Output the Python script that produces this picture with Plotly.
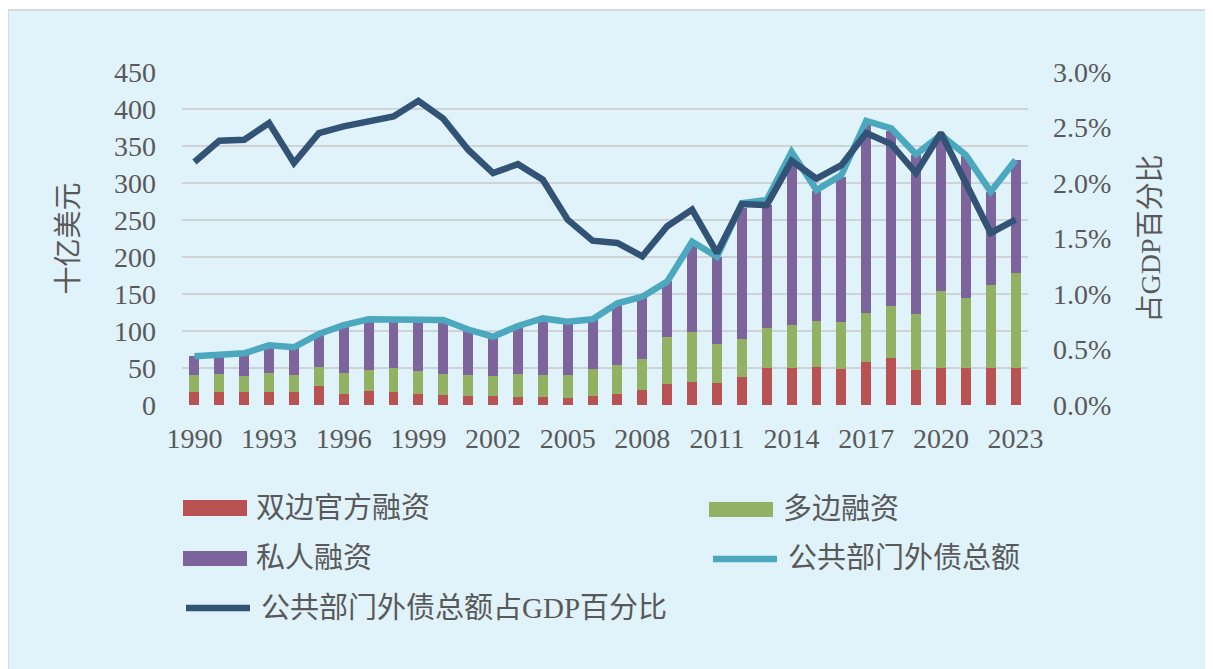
import plotly.graph_objects as go

years = list(range(1990, 2024))
bilateral = [17, 18, 17, 17, 17, 26, 15, 19, 17, 15, 13.5, 12, 12, 11, 11, 10, 12.6, 15, 20, 28.4,
             31.5, 30, 38, 50.5, 50.5, 52, 48.6, 58.6, 64, 47.7, 50.5, 50.5, 50.5, 50.5]
multilateral = [23.5, 24, 22, 26, 23.5, 26, 28, 28, 32.5, 31, 28.5, 28.5, 27, 31.5, 29.5, 30.5, 35.6, 39, 42, 63.5,
                66.7, 52, 50.7, 54, 57.5, 61.5, 63.4, 65.7, 69.8, 74.8, 104, 94.5, 111, 127.5]
private = [25.5, 25.7, 30.6, 37.8, 37.5, 44, 65, 68.5, 66, 68, 73, 61.5, 53, 64, 76.5, 72, 67.6, 83.4, 84, 75,
           120, 118, 178, 166, 227, 176, 196, 256, 236, 215, 208, 191, 126, 153]
total_debt = [66, 67.6, 69.8, 80.6, 78, 96, 108, 115.8, 115.8, 114, 115, 102, 92.3, 106.8, 117, 112.6, 115.8,
              137.4, 146.4, 166.7, 220.7, 200.4, 272.5, 277, 342, 290.5, 310.8, 383.8, 373.9, 338.7, 364.9,
              337.8, 288.3, 331]
pct_gdp = [2.19, 2.38, 2.39, 2.54, 2.18, 2.45, 2.51, 2.56, 2.60, 2.74, 2.58, 2.30, 2.09, 2.17, 2.03, 1.67, 1.48,
           1.46, 1.34, 1.61, 1.76, 1.37, 1.81, 1.80, 2.20, 2.04, 2.16, 2.45, 2.35, 2.09, 2.45, 2.00, 1.55, 1.67]
x_ticks = list(range(1990, 2024, 3))
left_ticks = list(range(0, 451, 50))
right_ticks = [0, 0.5, 1.0, 1.5, 2.0, 2.5, 3.0]

names = ["双边官方融资", "多边融资", "私人融资", "公共部门外债总额", "公共部门外债总额占GDP百分比"]
C_RED = "#B85253"
C_GREEN = "#93B162"
C_PURPLE = "#7D649D"
C_CYAN = "#4BA8BE"
C_DARK = "#325376"
FONT = "Liberation Serif, Times New Roman, Noto Sans CJK SC, serif"
TXT = "#595959"

# page body has an 8px margin; the figure is sized to fill the rest of the window
OFF = 8
W, H = 1213 - OFF, 669 - OFF
L, T = 182 - OFF, 72 - OFF
PW = 1028 - 182
PH = 405 - 72
R, B = W - L - PW, H - T - PH


def px(x):
    return (x - OFF - L) / PW


def py(y):
    return (T + PH - (y - OFF)) / PH


fig = go.Figure()
fig.add_bar(x=years, y=bilateral, name=names[0], marker=dict(color=C_RED, line=dict(width=0)))
fig.add_bar(x=years, y=multilateral, name=names[1], marker=dict(color=C_GREEN, line=dict(width=0)))
fig.add_bar(x=years, y=private, name=names[2], marker=dict(color=C_PURPLE, line=dict(width=0)))
fig.add_scatter(x=years, y=total_debt, name=names[3], mode="lines",
                line=dict(color=C_CYAN, width=6.5))
fig.add_scatter(x=years, y=pct_gdp, name=names[4], mode="lines", yaxis="y2",
                line=dict(color=C_DARK, width=6.5))

shapes = [
    dict(type="rect", xref="paper", yref="paper", x0=px(8), x1=px(1225), y0=py(680), y1=py(10),
         fillcolor="#E0F3FA", line=dict(color="#D9D9D9", width=2), layer="below"),
    dict(type="rect", xref="paper", yref="paper", x0=px(183), x1=px(247), y0=py(516), y1=py(500),
         fillcolor=C_RED, line=dict(width=0)),
    dict(type="rect", xref="paper", yref="paper", x0=px(709), x1=px(773), y0=py(517), y1=py(502),
         fillcolor=C_GREEN, line=dict(width=0)),
    dict(type="rect", xref="paper", yref="paper", x0=px(183), x1=px(247), y0=py(566), y1=py(551),
         fillcolor=C_PURPLE, line=dict(width=0)),
    dict(type="line", xref="paper", yref="paper", x0=px(713), x1=px(777), y0=py(559), y1=py(559),
         line=dict(color=C_CYAN, width=6.5)),
    dict(type="line", xref="paper", yref="paper", x0=px(186), x1=px(250), y0=py(608), y1=py(608),
         line=dict(color=C_DARK, width=6.5)),
]
legend_text = [(names[0], 254, 508), (names[1], 781, 509), (names[2], 254, 558),
               (names[3], 786, 558), (names[4], 259, 608)]
annotations = [dict(text=t, x=px(x), y=py(y), xref="paper", yref="paper", xanchor="left",
                    yanchor="middle", showarrow=False, font=dict(size=29, color=TXT, family=FONT))
               for t, x, y in legend_text]

fig.update_layout(
    width=W, height=H,
    margin=dict(l=L, r=R, t=T, b=B, pad=0),
    paper_bgcolor="white",
    plot_bgcolor="rgba(0,0,0,0)",
    barmode="stack",
    bargap=0.6,
    showlegend=False,
    font=dict(family=FONT, color=TXT, size=28),
    shapes=shapes,
    annotations=annotations,
    xaxis=dict(range=[1989.5, 2023.5], tickmode="array", tickvals=x_ticks,
               ticktext=[str(v) for v in x_ticks], showgrid=False, zeroline=False, showline=False,
               ticks="", ticklabelstandoff=14, tickfont=dict(size=28, color=TXT)),
    yaxis=dict(range=[0, 450], tickmode="array", tickvals=left_ticks, showgrid=True,
               gridcolor="#CFD3D6", gridwidth=2, zeroline=False, showline=False, ticks="",
               ticklabelstandoff=25, tickfont=dict(size=28, color=TXT),
               title=dict(text="十亿美元", font=dict(size=28, color=TXT), standoff=27)),
    yaxis2=dict(range=[0, 3.0], overlaying="y", side="right", tickmode="array", tickvals=right_ticks,
                ticktext=[f"{v:.1f}%" for v in right_ticks], showgrid=False, zeroline=False,
                showline=False, ticks="", ticklabelstandoff=24, tickfont=dict(size=28, color=TXT),
                title=dict(text="占GDP百分比", font=dict(size=28, color=TXT), standoff=30)),
)

fig.write_html("out.html")
